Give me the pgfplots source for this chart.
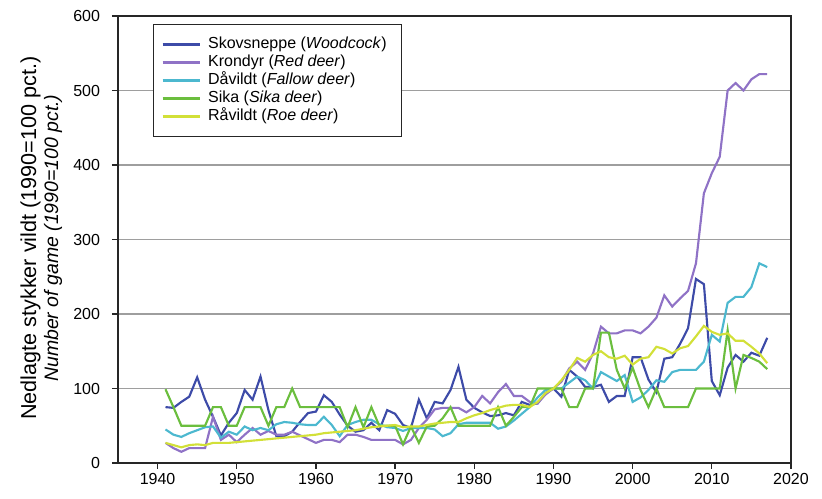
\documentclass[border=0pt]{standalone}
\usepackage{fontspec}
\setmainfont{Liberation Sans}
\usepackage{pgfplots}
\usepackage{pgfplotstable}
\pgfplotsset{compat=1.18}
\definecolor{cW}{HTML}{3D4BA8}
\definecolor{cR}{HTML}{8F72C6}
\definecolor{cF}{HTML}{4CB8CF}
\definecolor{cS}{HTML}{6BBE3E}
\definecolor{cD}{HTML}{D2E038}
\pgfplotstableread{
year W R F S D
1941 75 27 45 99 27
1942 74 20 38 75 24
1943 82 15 35 50 21
1944 89 20 40 50 24
1945 115 20 44 50 25
1946 85 20 48 50 24
1947 62 62 49 75 27
1948 37 31 34 75 27
1949 54 38 42 50 27
1950 67 28 38 50 28
1951 98 38 49 75 29
1952 85 47 44 75 30
1953 116 38 47 75 31
1954 71 43 44 50 32
1955 36 38 52 75 33
1956 36 38 55 75 34
1957 42 42 54 100 35
1958 55 37 52 75 36
1959 67 32 51 75 37
1960 69 27 51 75 38
1961 91 31 62 75 40
1962 82 31 51 75 41
1963 65 28 36 75 42
1964 50 38 51 48 43
1965 42 38 55 75 44
1966 44 35 58 48 46
1967 54 31 58 75 48
1968 44 31 52 50 49
1969 71 31 48 50 50
1970 66 31 47 50 51
1971 51 25 43 25 48
1972 47 31 47 49 49
1973 85 47 47 27 49
1974 60 58 47 49 51
1975 82 72 45 50 53
1976 80 74 36 60 54
1977 98 74 40 75 55
1978 129 74 52 50 55
1979 85 68 54 50 60
1980 74 75 54 50 64
1981 68 90 54 50 67
1982 63 80 54 50 71
1983 64 95 46 75 74
1984 67 106 49 50 77
1985 64 90 57 62 78
1986 82 90 66 75 78
1987 78 82 75 75 75
1988 80 80 88 100 82
1989 94 92 98 100 94
1990 100 100 100 100 100
1991 89 109 100 100 111
1992 125 127 108 75 125
1993 116 136 116 75 141
1994 102 125 111 100 136
1995 102 147 100 100 145
1996 105 183 122 175 150
1997 82 174 116 175 142
1998 90 174 110 125 140
1999 90 178 118 100 144
2000 142 178 82 128 132
2001 142 174 88 98 140
2002 112 183 98 75 142
2003 95 195 111 100 156
2004 140 225 109 75 153
2005 142 210 122 75 147
2006 160 221 125 75 154
2007 181 231 125 75 157
2008 247 268 125 100 170
2009 240 362 136 100 184
2010 110 389 172 100 176
2011 91 411 163 100 172
2012 128 500 215 178 174
2013 145 510 223 100 164
2014 136 500 223 145 164
2015 148 515 236 141 156
2016 144 522 268 136 147
2017 168 522 263 126 134
}\datatable
\begin{document}
\begin{tikzpicture}
\begin{axis}[name=ax, scale only axis, width=504.75pt, height=335.25pt,
  xmin=1935, xmax=2020, ymin=0, ymax=600,
  xtick={1940,1950,...,2020}, ytick={0,100,...,600},
  xtick pos=bottom, ytick pos=left, tick align=outside,
  major tick length=4.5pt,
  ymajorgrids, grid style={black!38, line width=1.1pt},
  axis line style={line width=1.2pt, black!85},
  every tick/.style={black!85, line width=1pt},
  tick label style={font=\fontsize{12}{14}\selectfont},
  yticklabel style={xshift=-5.5pt},
  /pgf/number format/assume math mode=true,
  /pgf/number format/1000 sep={},
  ylabel={\fontsize{16.2}{16.5}\selectfont Nedlagte stykker vildt (1990=100 pct.)\\\fontsize{14.6}{16.5}\selectfont\itshape Number of game (1990=100 pct.)},
  ylabel style={align=center, font=\fontsize{16.2}{16.5}\selectfont, at={(axis description cs:-0.114,0.503)}, anchor=center},
  legend cell align=left,
  legend image code/.code={\draw[#1] (0pt,0pt) -- (28pt,0pt);},
  legend style={at={(axis description cs:0.052,0.982)}, anchor=north west,
    draw=black!85, line width=1pt, inner xsep=6pt, inner ysep=8.1pt, row sep=0pt,
    font=\fontsize{12}{13.5}\selectfont,
    nodes={inner xsep=5.25pt, inner ysep=1.15pt, text height=8.6pt, text depth=2.6pt}},
  every axis plot/.append style={line width=1.6pt},
]
\addplot[cW] table[x=year, y=W] {\datatable};
\addlegendentry{Skovsneppe (\textit{Woodcock})}
\addplot[cR] table[x=year, y=R] {\datatable};
\addlegendentry{Krondyr (\textit{Red deer})}
\addplot[cF] table[x=year, y=F] {\datatable};
\addlegendentry{Dåvildt (\textit{Fallow deer})}
\addplot[cS] table[x=year, y=S] {\datatable};
\addlegendentry{Sika (\textit{Sika deer})}
\addplot[cD] table[x=year, y=D] {\datatable};
\addlegendentry{Råvildt (\textit{Roe deer})}
\end{axis}
\pgfresetboundingbox
\path[use as bounding box] ([xshift=-88.5pt,yshift=-27pt]ax.south west) rectangle ([xshift=528pt,yshift=347.25pt]ax.south west);
\end{tikzpicture}
\end{document}
